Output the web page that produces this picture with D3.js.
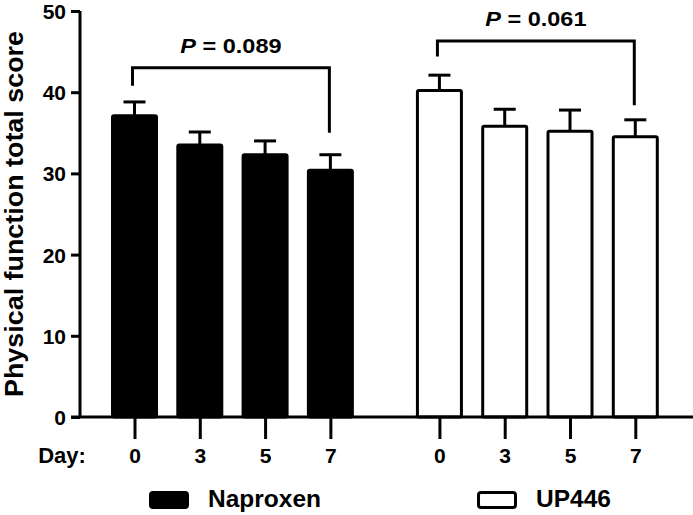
<!DOCTYPE html>
<html>
<head>
<meta charset="utf-8">
<script src="https://cdn.jsdelivr.net/npm/d3@7"></script>
<style>
  body { margin: 0; background: #fff; }
  svg { display: block; }
  text { font-family: "Liberation Sans", Arial, sans-serif; font-weight: bold; fill: #000; }
</style>
</head>
<body>
<svg id="chart" width="693" height="515"></svg>
<script>
// ---- data ----
const days = ["0", "3", "5", "7"];
const naproxenMean = [37.1, 33.5, 32.3, 30.4];
const naproxenErr  = [1.7, 1.6, 1.7, 1.9];
const up446Mean    = [40.2, 35.8, 35.2, 34.5];
const up446Err     = [1.9, 2.1, 2.6, 2.1];
const yTicks = [0, 10, 20, 30, 40, 50];
const groups = ["Naproxen", "UP446"];
const pLabels = ["0.089", "0.061"];
const bracketTop = [43.0, 46.3];
const bracketLegLeft = [40.8, 44.4];
const bracketLegRight = [35.0, 38.4];

// ---- layout ----
const svg = d3.select("#chart");
const groupGap = 4.67; // slot offset of 2nd group
const x = d3.scaleLinear().domain([0, 3 + groupGap]).range([134.5, 635.3]);
const y = d3.scaleLinear().domain([0, 50]).range([417, 11]);
const barW = 44;
const capW = 22;
const lw = 3;

const series = [
  { name: groups[0], mean: naproxenMean, err: naproxenErr, offset: 0, fill: "#000" },
  { name: groups[1], mean: up446Mean, err: up446Err, offset: groupGap, fill: "#fff" }
];

// bars + error bars
series.forEach((s, gi) => {
  const g = svg.append("g");
  s.mean.forEach((m, i) => {
    const cx = x(i + s.offset);
    g.append("line").attr("x1", cx).attr("x2", cx)
      .attr("y1", y(m)).attr("y2", y(m + s.err[i]))
      .attr("stroke", "#000").attr("stroke-width", lw);
    g.append("line").attr("x1", cx - capW / 2).attr("x2", cx + capW / 2)
      .attr("y1", y(m + s.err[i])).attr("y2", y(m + s.err[i]))
      .attr("stroke", "#000").attr("stroke-width", lw);
    g.append("rect")
      .attr("x", cx - barW / 2).attr("y", y(m))
      .attr("width", barW).attr("height", y(0) - y(m))
      .attr("rx", 1.5)
      .attr("fill", s.fill).attr("stroke", "#000").attr("stroke-width", lw);
  });

  // bracket
  const xl = x(0 + s.offset) - 2, xr = x(3 + s.offset) - 1;
  g.append("path")
    .attr("d", `M${xl},${y(bracketLegLeft[gi])}V${y(bracketTop[gi])}H${xr}V${y(bracketLegRight[gi])}`)
    .attr("fill", "none").attr("stroke", "#000").attr("stroke-width", lw);
  const t = g.append("text")
    .attr("transform", `translate(${(xl + xr) / 2},${y(bracketTop[gi]) - 15}) scale(1.12,1)`)
    .attr("text-anchor", "middle").style("font-size", "21px");
  t.append("tspan").style("font-style", "italic").text("P");
  t.append("tspan").text(" = " + pLabels[gi]);
});

// y axis
const yAxis = d3.axisLeft(y).tickValues(yTicks).tickSize(9).tickPadding(5);
const ya = svg.append("g").attr("transform", "translate(80,0)").call(yAxis);
ya.select(".domain").attr("d", `M0,${y(50)}V${y(0)}`).attr("stroke-width", lw).attr("stroke", "#000");
ya.selectAll(".tick line").attr("stroke-width", lw).attr("stroke", "#000");
ya.selectAll(".tick text").style("font-size", "21px").attr("dy", "0.36em")
  .style("font-family", "'Liberation Sans', Arial, sans-serif").style("font-weight", "bold");

// baseline
svg.append("line").attr("x1", 71).attr("x2", 693).attr("y1", y(0)).attr("y2", y(0))
  .attr("stroke", "#000").attr("stroke-width", lw);

// x ticks and labels
const xPos = [];
series.forEach(s => days.forEach((d, i) => xPos.push({ d, v: i + s.offset })));
const xAxis = d3.axisBottom(x).tickValues(xPos.map(p => p.v))
  .tickFormat((v, i) => xPos[i].d).tickSize(22).tickPadding(9);
const xa = svg.append("g").attr("transform", `translate(0,${y(0)})`).call(xAxis);
xa.select(".domain").remove();
xa.selectAll(".tick line").attr("stroke-width", lw).attr("stroke", "#000");
xa.selectAll(".tick text").style("font-size", "21px")
  .style("font-family", "'Liberation Sans', Arial, sans-serif").style("font-weight", "bold");

svg.append("text").attr("x", 62).attr("y", 463).attr("text-anchor", "middle")
  .style("font-size", "22px").text("Day:");

// y label
svg.append("text")
  .attr("transform", `translate(23,214) rotate(-90)`)
  .attr("text-anchor", "middle").style("font-size", "25px")
  .attr("textLength", 366).attr("lengthAdjust", "spacingAndGlyphs")
  .text("Physical function total score");

// legend
const legX = [149, 477];
series.forEach((s, gi) => {
  svg.append("rect").attr("x", legX[gi] + 1.5).attr("y", 492.5)
    .attr("width", 37).attr("height", 15).attr("rx", 2.5)
    .attr("fill", s.fill).attr("stroke", "#000").attr("stroke-width", lw);
  svg.append("text").attr("x", legX[gi] + 59).attr("y", 507)
    .style("font-size", "24.5px").text(s.name);
});
</script>
</body>
</html>
